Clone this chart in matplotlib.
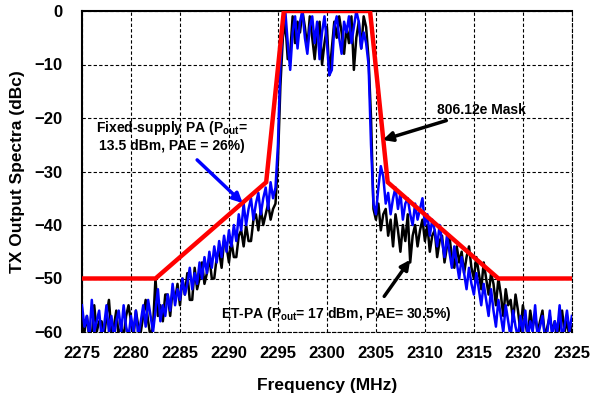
import numpy as np
import matplotlib
matplotlib.use("Agg")
import matplotlib.pyplot as plt

plt.rcParams['font.family'] = ['Liberation Sans', 'DejaVu Sans']
plt.rcParams['font.weight'] = 'bold'
plt.rcParams['mathtext.fontset'] = 'custom'
plt.rcParams['mathtext.rm'] = 'Liberation Sans:bold'
plt.rcParams['mathtext.bf'] = 'Liberation Sans:bold'
plt.rcParams['mathtext.default'] = 'bf'

# frequency grid of the traces (MHz), 0.25 MHz steps
freq = np.arange(2275, 2325.001, 0.25)

# ET-PA trace (black), dBc
et_pa = [-58,-60,-57,-61,-61,-55,-60,-58,-58,-61,-57,-54,-60,-59,-56,-61,-59,-61,-57,-55,
         -58,-61,-56,-59,-60,-57,-54,-58,-61,-59,-50,-57,-55,-58,-53,-53,-57,-52,-54,-51,
         -55,-50,-53,-49,-54,-54,-48,-52,-50,-47,-51,-49,-46,-50,-50,-46,-45,-48,-43,-44,
         -47,-43,-46,-46,-42,-41,-44,-40,-43,-43,-39,-38,-41,-37,-40,-38,-36,-39,-37,-36,
         -28,-14,-5,-2,-9,-8,-1,-6,-2,-4,0,-3,-7,-1,-5,-9,-4,-2,-10,-6,
         -3,-12,-7,-2,-5,-1,-4,-8,-3,-6,-1,-11,-5,-2,-7,-1,-3,-9,-20,-37,
         -39,-36,-41,-38,-37,-42,-39,-44,-38,-41,-45,-40,-43,-38,-47,-42,-40,-44,-41,-39,
         -43,-40,-45,-42,-41,-46,-43,-42,-47,-44,-42,-46,-48,-44,-47,-45,-49,-46,-44,-48,
         -50,-46,-49,-52,-47,-50,-53,-49,-51,-55,-50,-53,-57,-52,-55,-54,-58,-53,-56,-60,
         -55,-58,-61,-56,-59,-57,-60,-58,-56,-61,-59,-57,-60,-58,-61,-59,-56,-60,-58,-61,-59]

# fixed-supply PA trace (blue), dBc
fixed_pa = [-55,-59,-57,-61,-54,-60,-58,-56,-61,-59,-55,-60,-57,-61,-58,-56,-60,-55,-59,-61,
            -57,-60,-56,-61,-58,-55,-59,-54,-57,-60,-56,-52,-58,-55,-57,-53,-56,-51,-55,-52,
            -54,-50,-53,-51,-48,-52,-49,-51,-47,-50,-46,-49,-45,-48,-44,-47,-43,-46,-42,-45,
            -41,-44,-40,-43,-38,-41,-36,-40,-37,-35,-39,-36,-34,-38,-35,-33,-37,-32,-35,-33,
            -25,-10,-3,0,-6,-11,-4,-1,-7,-2,0,-5,-8,-3,-1,-6,-2,-9,-4,-1,
            -6,-12,-11,-3,-1,-5,-8,-2,-4,-1,-6,-3,0,-2,-7,-4,-6,-10,-25,-36,
            -38,-33,-29,-31,-36,-34,-38,-35,-33,-37,-34,-39,-36,-35,-38,-40,-36,-39,-37,-35,
            -40,-38,-42,-39,-41,-44,-40,-43,-46,-42,-45,-48,-44,-47,-50,-46,-49,-52,-48,-51,
            -53,-49,-52,-55,-51,-54,-57,-52,-56,-59,-54,-57,-60,-55,-58,-61,-56,-59,-61,-57,
            -60,-56,-61,-58,-60,-55,-61,-59,-57,-61,-60,-56,-61,-58,-60,-55,-61,-59,-56,-60,-57]

# spectral mask corners
mask_f = [2275, 2282.5, 2293.8, 2295.6, 2304.4, 2306.2, 2317.5, 2325]
mask_db = [-50, -50, -32, 0, 0, -32, -50, -50]

fig = plt.figure(figsize=(5.92, 4.0), dpi=100)
ax = fig.add_axes([0.1385, 0.17, 0.8275, 0.8025])

ax.plot(freq, et_pa, color='black', lw=1.8, zorder=3)
ax.plot(freq, fixed_pa, color='#0000ff', lw=1.8, zorder=4)
ax.plot(mask_f, mask_db, color='#ff0000', lw=3.2, zorder=5, solid_joinstyle='miter')

ax.set_xlim(2275, 2325)
ax.set_ylim(-60, 0)
ax.set_xticks(np.arange(2275, 2326, 5))
ax.set_yticks(np.arange(-60, 1, 10))
ax.grid(True, color='black', linestyle=(0, (3, 2)), linewidth=0.8)
ax.set_axisbelow(True)
ax.tick_params(axis='both', length=0, labelsize=12)
ax.tick_params(axis='y', pad=14)
ax.tick_params(axis='x', pad=10)
for lab in ax.get_xticklabels() + ax.get_yticklabels():
    lab.set_fontweight('bold')

ax.spines['top'].set_linewidth(1.5)
ax.spines['left'].set_linewidth(1.5)
ax.spines['right'].set_linestyle((0, (3, 2)))
ax.spines['bottom'].set_linestyle((0, (3, 2)))
ax.spines['right'].set_linewidth(0.8)
ax.spines['bottom'].set_linewidth(0.8)

ax.set_xlabel('Frequency (MHz)', fontsize=12.5, fontweight='bold', labelpad=12)
ax.set_ylabel('TX Output Spectra (dBc)', fontsize=12.5, fontweight='bold', labelpad=7)

ax.annotate('806.12e Mask', xy=(2305.7, -24.1), xytext=(2311.2, -18.5),
            fontsize=10, fontweight='bold', va='center', ha='left', zorder=6,
            arrowprops=dict(arrowstyle='-|>', color='black', lw=2.5, mutation_scale=14,
                            shrinkA=2, shrinkB=0))
ax.annotate('Fixed-supply PA (P$_{out}$=\n13.5 dBm, PAE = 26%)', xy=(2291.4, -35.9),
            xytext=(2284.2, -23.4), fontsize=10, fontweight='bold', ha='center',
            va='center', zorder=6,
            arrowprops=dict(arrowstyle='-|>', color='#0000ff', lw=2.5, mutation_scale=14,
                            shrinkA=4, shrinkB=0))
ax.annotate('ET-PA (P$_{out}$= 17 dBm, PAE= 30.5%)', xy=(2308.5, -46.5),
            xytext=(2301.0, -56.6), fontsize=10, fontweight='bold', ha='center',
            va='center', zorder=6,
            arrowprops=dict(arrowstyle='-|>', color='black', lw=2.5, mutation_scale=14,
                            shrinkA=5, shrinkB=0, relpos=(0.68, 1.0)))

fig.savefig('out.png', dpi=100)
